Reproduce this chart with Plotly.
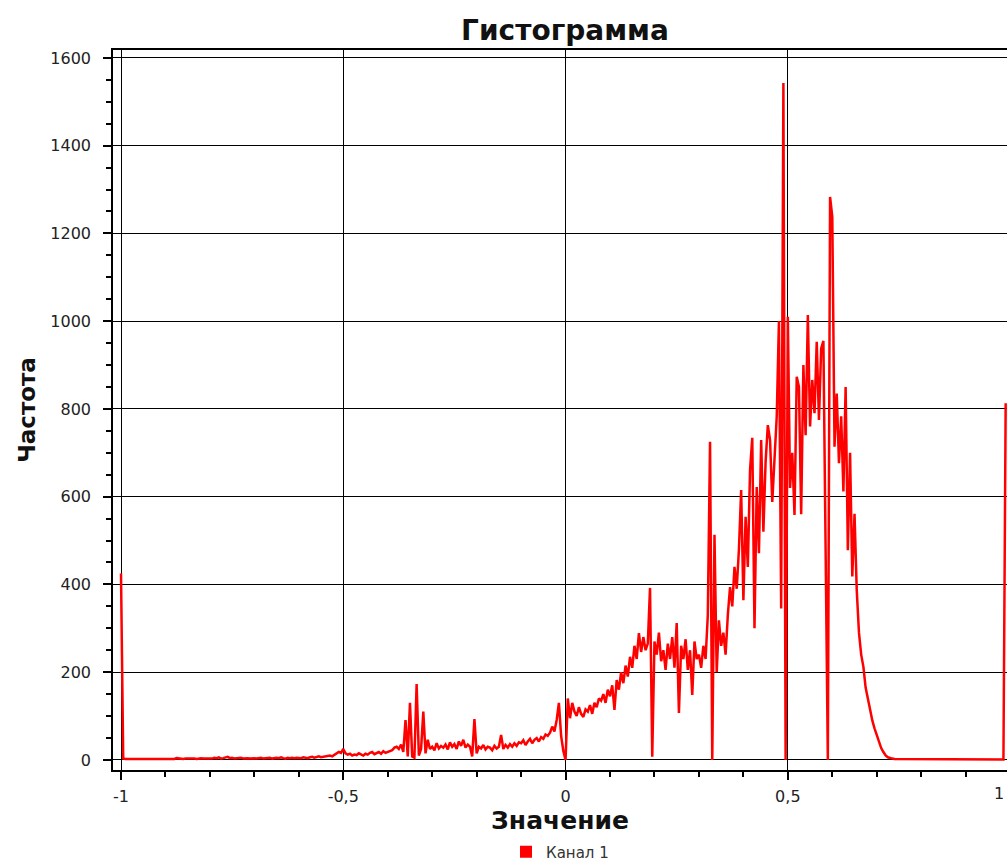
import numpy as np
import plotly.graph_objects as go

# Histogram bins: centres from -1 to 0.99 in steps of 0.005
bin_start = -1.0
bin_step = 0.005

# Counts, one row per 0.1 of the value axis
counts_m10 = [425, 3, 2, 2, 3, 2, 2, 3, 2, 2, 3, 2, 2, 3, 3, 2, 3, 2, 3, 3]
counts_m09 = [3, 2, 3, 3, 2, 4, 3, 3, 2, 3, 3, 4, 3, 3, 2, 3, 4, 3, 3, 4]
counts_m08 = [4, 3, 5, 4, 6, 3, 4, 5, 7, 4, 5, 3, 4, 4, 5, 3, 4, 4, 3, 4]
counts_m07 = [4, 3, 4, 5, 3, 4, 4, 5, 3, 4, 5, 4, 6, 4, 3, 5, 4, 5, 4, 5]
counts_m06 = [5, 4, 6, 5, 4, 6, 7, 5, 6, 8, 6, 7, 8, 9, 10, 8, 12, 14, 18, 16]
counts_m05 = [25, 15, 12, 14, 10, 12, 11, 15, 12, 10, 14, 12, 16, 18, 13, 15, 18, 14, 20, 16]
counts_m04 = [18, 20, 22, 28, 30, 25, 35, 18, 91, 8, 130, 8, 5, 173, 10, 25, 110, 15, 46, 25]
counts_m03 = [30, 22, 38, 26, 32, 28, 35, 24, 40, 30, 36, 25, 42, 32, 46, 28, 35, 30, 8, 93]
counts_m02 = [15, 30, 26, 34, 24, 30, 28, 22, 32, 26, 30, 57, 25, 34, 28, 36, 30, 38, 32, 40]
counts_m01 = [38, 45, 34, 42, 48, 38, 46, 50, 42, 52, 48, 58, 55, 62, 76, 65, 91, 130, 55, 20]
counts_p00 = [0, 140, 95, 130, 110, 100, 120, 105, 98, 115, 110, 125, 105, 130, 120, 140, 135, 150, 130, 160]
counts_p01 = [145, 170, 114, 182, 160, 200, 175, 215, 190, 235, 210, 260, 230, 289, 246, 280, 250, 265, 392, 7]
counts_p02 = [270, 240, 290, 225, 250, 205, 265, 230, 280, 210, 312, 107, 260, 230, 275, 205, 250, 148, 270, 230]
counts_p03 = [240, 210, 260, 230, 330, 725, 0, 513, 200, 318, 260, 290, 240, 330, 394, 350, 440, 390, 480, 615]
counts_p04 = [364, 554, 440, 661, 734, 300, 622, 471, 729, 520, 680, 763, 729, 588, 700, 782, 1000, 345, 1543, 0]
counts_p05 = [1010, 620, 700, 558, 873, 850, 560, 900, 740, 1014, 760, 866, 790, 953, 775, 938, 955, 414, 0, 1283]
counts_p06 = [1238, 714, 835, 676, 783, 612, 850, 478, 700, 418, 561, 387, 290, 240, 212, 165, 140, 110, 90, 72]
counts_p07 = [55, 40, 27, 18, 10, 6, 4, 3, 2, 2, 1, 1, 2, 1, 1, 1, 1, 1, 1, 1]
counts_p08 = [1, 1, 1, 2, 1, 1, 1, 1, 2, 1, 1, 1, 1, 1, 2, 1, 1, 1, 1, 1]
counts_p09 = [1, 1, 1, 1, 2, 1, 1, 1, 1, 1, 1, 2, 1, 1, 1, 1, 1, 1, 813]

counts = (counts_m10 + counts_m09 + counts_m08 + counts_m07 + counts_m06 + counts_m05
          + counts_m04 + counts_m03 + counts_m02 + counts_m01 + counts_p00 + counts_p01
          + counts_p02 + counts_p03 + counts_p04 + counts_p05 + counts_p06 + counts_p07
          + counts_p08 + counts_p09)
values = np.round(bin_start + bin_step * np.arange(len(counts)), 3)

x_tickvals = [-1, -0.5, 0, 0.5, 1]
x_ticktext = ["-1", "-0,5", "0", "0,5", "1"]
y_tickvals = [0, 200, 400, 600, 800, 1000, 1200, 1400, 1600]

title_text = "Гистограмма"
x_title = "Значение"
y_title = "Частота"
series_name = "Канал 1"

RED = "rgb(255,0,0)"
FONT = "DejaVu Sans"
X_RANGE = [-1.018, 0.993]

fig = go.Figure()
fig.add_trace(go.Scatter(x=values, y=counts, mode="lines",
                         line=dict(color=RED, width=2.5), showlegend=False,
                         name=series_name))
# legend entry shown as a filled square
fig.add_trace(go.Scatter(x=[None], y=[None], mode="markers",
                         marker=dict(symbol="square", size=12, color=RED),
                         name=series_name, showlegend=True))

# the last tick label (1) sits at the right edge of the window
fig.add_annotation(text=x_ticktext[-1], xref="paper", yref="paper",
                   x=1, y=0, xanchor="right", yanchor="top",
                   yshift=-12, xshift=-1, showarrow=False,
                   font=dict(family=FONT, size=16, color="#222222"))

fig.update_layout(
    width=1007, height=862,
    margin=dict(l=113, r=0, t=50, b=92, autoexpand=False),
    paper_bgcolor="white", plot_bgcolor="white",
    font=dict(family=FONT, color="#222222"),
    title=dict(text="<b>" + title_text + "</b>", x=565 / 1007, xanchor="center",
               y=1 - 30 / 862, yanchor="middle",
               font=dict(family=FONT, size=28, color="#111111")),
    legend=dict(orientation="h", x=0.5, xanchor="center",
                yref="container", y=1 - 852 / 862, yanchor="middle",
                font=dict(family=FONT, size=15, color="#333333"),
                itemwidth=30, bgcolor="rgba(0,0,0,0)"),
    showlegend=True,
)

fig.update_xaxes(
    range=X_RANGE,
    tickmode="array", tickvals=x_tickvals, ticktext=x_ticktext,
    ticks="outside", ticklen=8, tickwidth=1.5, tickcolor="black",
    tickfont=dict(family=FONT, size=16, color="#222222"),
    ticklabelstandoff=3,
    showgrid=True, gridcolor="black", gridwidth=1,
    zeroline=False, automargin=False,
    showline=True, linecolor="black", linewidth=1.5, mirror=True,
    minor=dict(tickmode="linear", tick0=0, dtick=0.1, ticks="outside",
               ticklen=5, tickcolor="black", tickwidth=1.5, showgrid=False),
    title=dict(text="<b>" + x_title + "</b>", standoff=8,
               font=dict(family=FONT, size=25, color="#111111")),
)

fig.update_yaxes(
    range=[-23, 1618],
    tickmode="array", tickvals=y_tickvals,
    ticks="outside", ticklen=8, tickwidth=1.5, tickcolor="black",
    tickfont=dict(family=FONT, size=16, color="#222222"),
    ticklabelstandoff=9,
    showgrid=True, gridcolor="black", gridwidth=1,
    zeroline=False, automargin=False,
    showline=True, linecolor="black", linewidth=1.5, mirror=False,
    minor=dict(tickmode="linear", tick0=0, dtick=50, ticks="outside",
               ticklen=5, tickcolor="black", tickwidth=1.5, showgrid=False),
    title=dict(text="<b>" + y_title + "</b>", standoff=8,
               font=dict(family=FONT, size=23, color="#111111")),
)

fig.write_html("out.html", config={"displayModeBar": False},
               post_script="document.body.style.margin='0';document.body.style.overflow='hidden';")
